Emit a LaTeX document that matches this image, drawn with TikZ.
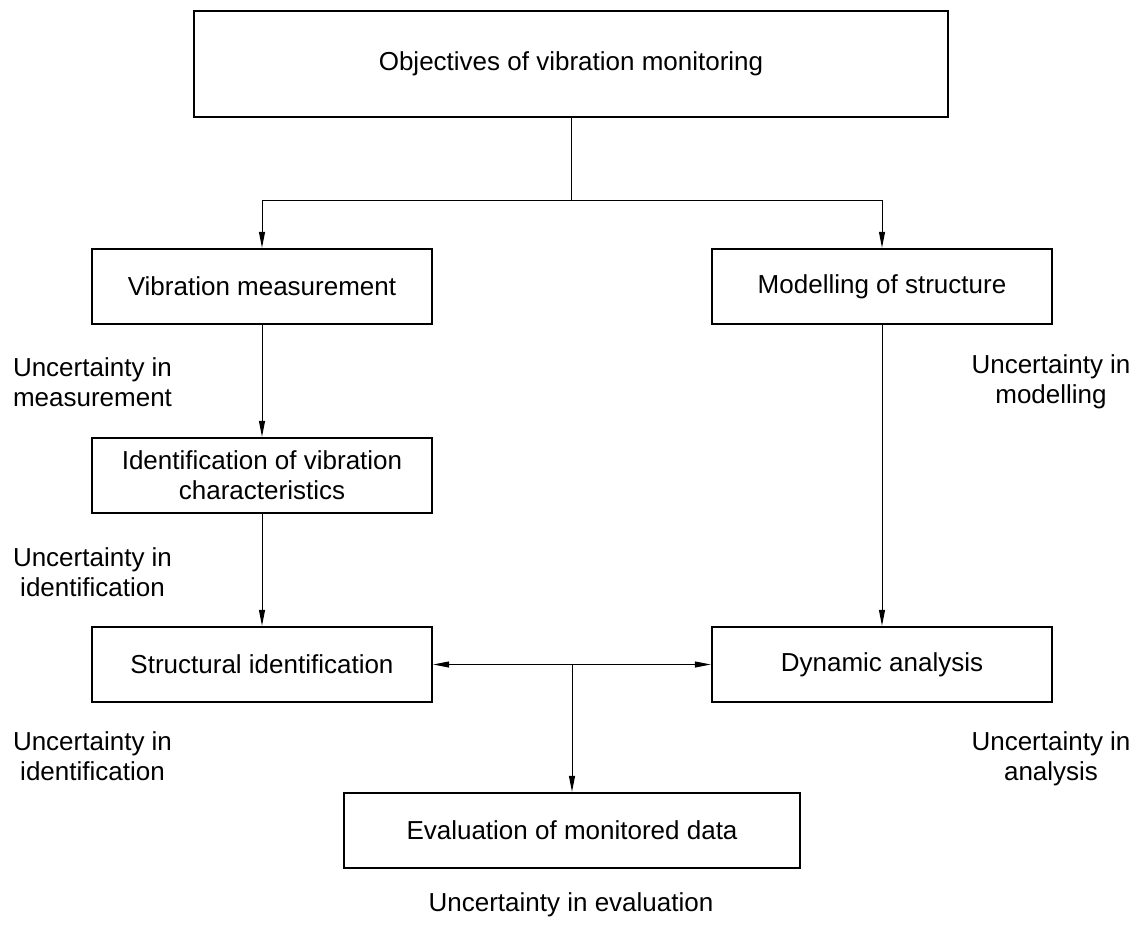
\documentclass[tikz,border=0pt]{standalone}
\usepackage{fontspec}
\setmainfont{Liberation Sans}
\usetikzlibrary{arrows.meta}
\begin{document}
\begin{tikzpicture}[x=1pt,y=-1pt,
        box/.style={draw,line width=2.4pt,inner sep=0pt,minimum width=340pt,minimum height=75pt,align=center},
        note/.style={align=center,inner sep=0pt},
        link/.style={line width=1pt,-{Triangle[length=16pt,width=6pt]}},
        font=\fontsize{26}{30}\selectfont]
        \useasboundingbox (0,0) rectangle (1140,924);
        \node[box,minimum width=754pt,minimum height=106pt] (goal) at (571,64) {Objectives of vibration monitoring};
        \node[box] (meas) at (262,286.5) {Vibration measurement};
        \node[box] (model) at (882,286.5) {Modelling of structure};
        \node[box] (ident) at (262,475.5) {Identification of vibration\\characteristics};
        \node[box] (struct) at (262,664.5) {Structural identification};
        \node[box] (dyn) at (882,664.5) {Dynamic analysis};
        \node[box,minimum width=456pt] (eval) at (572,830.5) {Evaluation of monitored data};
        \node[note] (umeas) at (92.5,382) {Uncertainty in\\measurement};
        \node[note] (uident) at (92.5,572) {Uncertainty in\\identification};
        \node[note] (ustruct) at (92.5,756) {Uncertainty in\\identification};
        \node[note] (umodel) at (1051,382) {Uncertainty in\\modelling};
        \node[note] (udyn) at (1051,759) {Uncertainty in\\analysis};
        \node[note] (ueval) at (571,905) {Uncertainty in evaluation};
        \coordinate (split) at (571,200);
        \coordinate (join) at (572,664.5);
        \draw[line width=1pt] (goal.south) -- (split);
        \draw[link] (split) -| (meas.north);
        \draw[link] (split) -| (model.north);
        \draw[link] (meas) -- (ident);
        \draw[link] (ident) -- (struct);
        \draw[link] (model) -- (dyn);
        \draw[link] (join) -- (struct);
        \draw[link] (join) -- (dyn);
        \draw[link] (join) -- (eval);
\end{tikzpicture}
\end{document}
